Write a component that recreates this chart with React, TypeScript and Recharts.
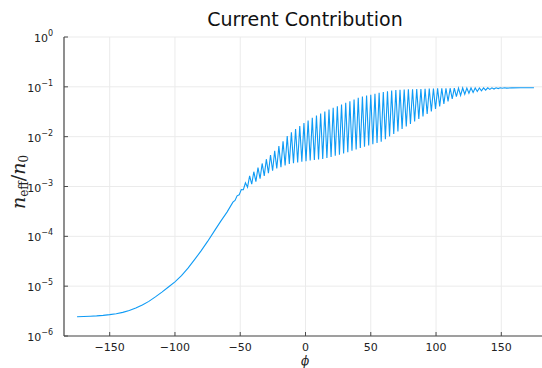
import { LineChart, Line, XAxis, YAxis, CartesianGrid } from 'recharts';

// smooth rise before the oscillations
const phiSmooth = [
  -175, -170, -165, -160, -155, -150, -145, -140, -135, -130, -125, -120, -115,
  -110, -105, -100, -95, -90, -85, -80, -75, -70, -65, -60,
];
const nSmooth = [
  2.44e-6, 2.46e-6, 2.49e-6, 2.53e-6, 2.59e-6, 2.68e-6, 2.8e-6, 2.98e-6, 3.25e-6, 3.65e-6, 4.2e-6, 4.95e-6, 6.1e-6,
  7.6e-6, 9.6e-6, 1.22e-5, 1.62e-5, 2.3e-5, 3.4e-5, 5.1e-5, 7.9e-5, 1.26e-4, 2.0e-4, 3.1e-4,
];

// oscillating part: alternating peak / trough
const phiOsc = [
  -55.6, -54.0, -52.4, -50.8, -49.2, -47.6,
  -46.0, -44.4, -42.8, -41.2, -39.6, -38.0, -36.4, -34.8, -33.2, -31.6,
  -30.0, -28.4, -26.8, -25.2, -23.6, -22.0, -20.4, -18.8, -17.2, -15.6,
  -14.0, -12.4, -10.8, -9.2, -7.6, -6.0, -4.4, -2.8, -1.2, 0.4,
  2.0, 3.6, 5.2, 6.8, 8.4, 10.0, 11.6, 13.2, 14.8, 16.4,
  18.0, 19.6, 21.2, 22.8, 24.4, 26.0, 27.6, 29.2, 30.8, 32.4,
  34.0, 35.6, 37.2, 38.8, 40.4, 42.0, 43.6, 45.2, 46.8, 48.4,
  50.0, 51.6, 53.2, 54.8, 56.4, 58.0, 59.6, 61.2, 62.8, 64.4,
  66.0, 67.6, 69.2, 70.8, 72.4, 74.0, 75.6, 77.2, 78.8, 80.4,
  82.0, 83.6, 85.2, 86.8, 88.4, 90.0, 91.6, 93.2, 94.8, 96.4,
  98.0, 99.6, 101.2, 102.8, 104.4, 106.0, 107.6, 109.2, 110.8, 112.4,
  114.0, 115.6, 117.2, 118.8, 120.4, 122.0, 123.6, 125.2, 126.8, 128.4,
  130.0, 131.6, 133.2, 134.8, 136.4, 138.0, 139.6, 141.2, 142.8, 144.4,
  146.0, 147.6, 149.2, 150.8, 152.4, 154.0,
];
const nOsc = [
  4.85e-4, 5.25e-4, 6.5e-4, 6.8e-4, 8.7e-4, 8.6e-4,
  1.19e-3, 9.7e-4, 1.63e-3, 1.11e-3, 1.98e-3, 1.25e-3, 2.40e-3, 1.43e-3, 2.90e-3, 1.63e-3,
  3.53e-3, 1.86e-3, 4.29e-3, 2.07e-3, 5.20e-3, 2.30e-3, 6.47e-3, 2.45e-3, 8.03e-3, 2.65e-3,
  1.03e-2, 2.84e-3, 1.23e-2, 2.93e-3, 1.43e-2, 3.03e-3, 1.64e-2, 3.13e-3, 1.87e-2, 3.22e-3,
  2.12e-2, 3.32e-3, 2.38e-2, 3.40e-3, 2.66e-2, 3.50e-3, 2.92e-2, 3.58e-3, 3.21e-2, 3.72e-3,
  3.49e-2, 3.93e-3, 3.78e-2, 4.13e-3, 4.09e-2, 4.36e-3, 4.44e-2, 4.59e-3, 4.80e-2, 4.90e-3,
  5.15e-2, 5.20e-3, 5.54e-2, 5.55e-3, 6.00e-2, 5.92e-3, 6.37e-2, 6.26e-3, 6.67e-2, 6.65e-3,
  6.95e-2, 7.03e-3, 7.28e-2, 7.46e-3, 7.59e-2, 7.96e-3, 7.87e-2, 8.93e-3, 8.13e-2, 1.01e-2,
  8.40e-2, 1.13e-2, 8.63e-2, 1.27e-2, 8.71e-2, 1.43e-2, 8.79e-2, 1.60e-2, 8.88e-2, 1.80e-2,
  8.96e-2, 2.01e-2, 9.00e-2, 2.26e-2, 9.08e-2, 2.54e-2, 9.17e-2, 2.85e-2, 9.25e-2, 3.20e-2,
  9.28e-2, 3.61e-2, 9.30e-2, 4.05e-2, 9.35e-2, 4.54e-2, 9.35e-2, 5.10e-2, 9.38e-2, 5.73e-2,
  9.38e-2, 6.34e-2, 9.41e-2, 6.73e-2, 9.48e-2, 7.11e-2, 9.48e-2, 7.41e-2, 9.50e-2, 7.73e-2,
  9.50e-2, 8.06e-2, 9.52e-2, 8.32e-2, 9.53e-2, 8.59e-2, 9.54e-2, 8.88e-2, 9.55e-2, 9.04e-2,
  9.56e-2, 9.21e-2, 9.57e-2, 9.35e-2, 9.58e-2, 9.41e-2,
];

// flat tail
const phiTail = [158, 165, 175];
const nTail = [0.0955, 0.0958, 0.096];

const xTicks = [-150, -100, -50, 0, 50, 100, 150];
const yTicks = [1e-6, 1e-5, 1e-4, 1e-3, 1e-2, 1e-1, 1];

const allPhi = [...phiSmooth, ...phiOsc, ...phiTail];
const allN = [...nSmooth, ...nOsc, ...nTail];
const data = allPhi.map((phi, i) => ({ phi, n: allN[i] }));

const FONT = '"DejaVu Sans", sans-serif';
const SERIF = '"DejaVu Serif", serif';
const AXIS = '#4a4a4a';

function YTick(props: any) {
  const { x, y, payload } = props;
  const exp = Math.round(Math.log10(payload.value));
  const sup = exp < 0 ? `\u2212${-exp}` : `${exp}`;
  return (
    <g>
      <line x1={x} x2={x + 4} y1={y} y2={y} stroke={AXIS} strokeWidth={1} />
      <text x={x - 11} y={y + 5} textAnchor="end" fontFamily={FONT} fontSize={11} fill="#222">
        10
        <tspan dy={-6} fontSize={8}>{sup}</tspan>
      </text>
    </g>
  );
}

function XTick(props: any) {
  const { x, y, payload } = props;
  const v = payload.value;
  const label = v < 0 ? `\u2212${-v}` : `${v}`;
  return (
    <g>
      <line x1={x} x2={x} y1={y} y2={y - 4} stroke={AXIS} strokeWidth={1} />
      <text x={x} y={y + 15} textAnchor="middle" fontFamily={FONT} fontSize={11} fill="#222">
        {label}
      </text>
    </g>
  );
}

export default function App() {
  return (
    <div style={{ position: 'absolute', left: 0, top: 0, width: 542, height: 368, overflow: 'hidden', background: '#fff' }}>
      <LineChart width={560} height={368} data={data} margin={{ top: 37, right: 13, bottom: 0, left: 0 }}>
        <CartesianGrid stroke="#ebebeb" strokeWidth={1} />
        <XAxis
          dataKey="phi"
          type="number"
          domain={[-185, 185]}
          ticks={xTicks}
          allowDataOverflow
          height={32}
          tickSize={0}
          tickMargin={0}
          stroke={AXIS}
          strokeWidth={1.2}
          tick={<XTick />}
        />
        <YAxis
          dataKey="n"
          scale="log"
          domain={[1e-6, 1]}
          ticks={yTicks}
          allowDataOverflow
          width={64}
          tickSize={0}
          tickMargin={0}
          stroke={AXIS}
          strokeWidth={1.2}
          tick={<YTick />}
        />
        <Line
          type="linear"
          dataKey="n"
          stroke="#0F9BF5"
          strokeWidth={1.1}
          dot={false}
          isAnimationActive={false}
        />
      </LineChart>
      <svg width={542} height={368} style={{ position: 'absolute', left: 0, top: 0, pointerEvents: 'none' }}>
        <text x={305} y={26} textAnchor="middle" fontFamily={FONT} fontSize={19} fill="#111">
          Current Contribution
        </text>
        <text x={305} y={365} textAnchor="middle" fontFamily={SERIF} fontStyle="italic" fontSize={12} fill="#222">
          ϕ
        </text>
        <text
          transform="translate(25,182) rotate(-90)"
          textAnchor="middle"
          fontFamily={SERIF}
          fontSize={19}
          fill="#222"
        >
          <tspan fontStyle="italic">n</tspan>
          <tspan fontSize={12} dy={3}>eff</tspan>
          <tspan dy={-3}>/</tspan>
          <tspan fontStyle="italic">n</tspan>
          <tspan fontSize={12} dy={3}>0</tspan>
        </text>
      </svg>
    </div>
  );
}
